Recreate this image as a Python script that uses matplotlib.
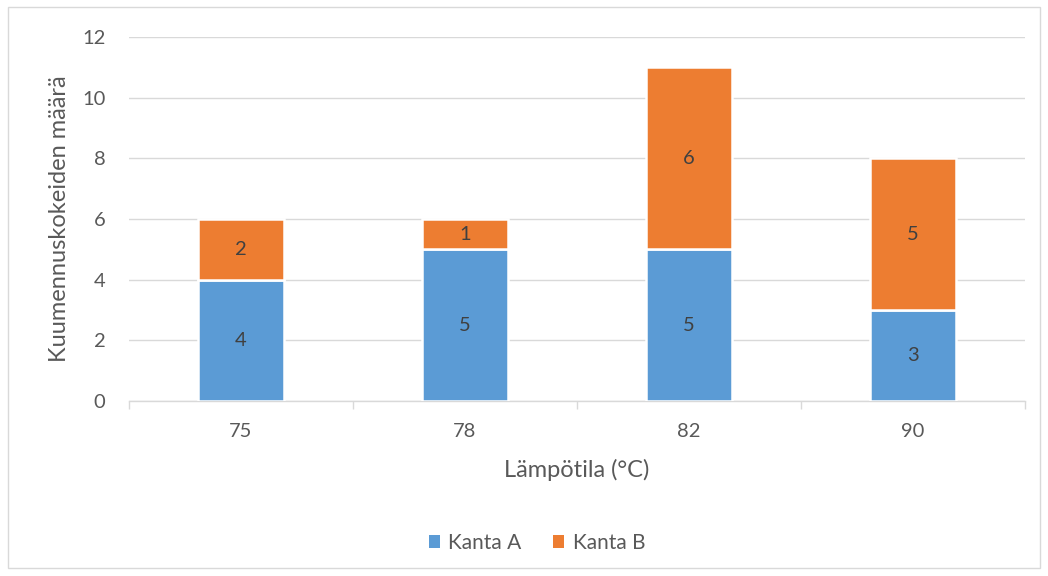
import matplotlib
matplotlib.use("Agg")
import matplotlib.pyplot as plt
import numpy as np

categories = ["75", "78", "82", "90"]
kanta_a = [4, 5, 5, 3]
kanta_b = [2, 1, 6, 5]
series_names = ["Kanta A", "Kanta B"]
colors = ["#5B9BD5", "#ED7D31"]
y_ticks = [0, 2, 4, 6, 8, 10, 12]

plt.rcParams['font.family'] = ['Lato', 'DejaVu Sans']
text_color = "#595959"

fig = plt.figure(figsize=(10.48, 5.76), dpi=100)
fig.patches.append(matplotlib.patches.Rectangle((8/1048, 8/576), 1032/1048, 561/576,
                   transform=fig.transFigure, fill=False, edgecolor="#d9d9d9", linewidth=1))
ax = fig.add_axes([129/1048, 1 - 401/576, (1025-129)/1048, (401-37)/576])

x = np.arange(len(categories))
w = 0.384
b1 = ax.bar(x, kanta_a, width=w, color=colors[0], edgecolor="white", linewidth=1.8, label=series_names[0], zorder=3)
b2 = ax.bar(x, kanta_b, width=w, bottom=kanta_a, color=colors[1], edgecolor="white", linewidth=1.8, label=series_names[1], zorder=3)

for bars, vals, bottoms in [(b1, kanta_a, [0]*4), (b2, kanta_b, kanta_a)]:
    for xi, v, bt in zip(x, vals, bottoms):
        ax.text(xi, bt + v/2, str(v), ha="center", va="center", fontsize=14.5, color="#404040", zorder=4)

ax.set_xlim(-0.5, len(categories) - 0.5)
ax.set_ylim(0, 12)
ax.set_yticks(y_ticks)
ax.set_yticklabels([str(t) for t in y_ticks], fontsize=14.5, color=text_color)
ax.set_xticks(x)
ax.set_xticklabels(categories, fontsize=14.5, color=text_color)
ax.set_xticks(np.arange(-0.5, len(categories), 1), minor=True)
ax.tick_params(axis="x", which="major", length=0, pad=16)
ax.tick_params(axis="x", which="minor", length=6, color="#d9d9d9", width=1)
ax.tick_params(axis="y", length=0, pad=17)
ax.yaxis.grid(True, color="#d9d9d9", linewidth=1, zorder=0)
ax.set_axisbelow(True)
for s in ["top", "right", "left"]:
    ax.spines[s].set_visible(False)
ax.spines["bottom"].set_color("#d9d9d9")
ax.spines["bottom"].set_linewidth(1)

ax.set_xlabel("Lämpötila (°C)", fontsize=17, color=text_color)
ax.xaxis.set_label_coords(0.5, -(470 - 401) / 364)
ax.xaxis.label.set_va("center")
ax.set_ylabel("Kuumennuskokeiden määrä", fontsize=17, color=text_color)
ax.yaxis.set_label_coords(-(129 - 60) / 896, 0.5)
ax.yaxis.label.set_va("center")

leg = fig.legend(handles=[b1, b2], labels=series_names, loc="center", bbox_to_anchor=(537/1048, 1 - 543/576),
                 ncol=2, frameon=False, fontsize=15, handlelength=0.55, handleheight=0.55,
                 columnspacing=1.5, handletextpad=0.4)
for t in leg.get_texts():
    t.set_color(text_color)
for h in leg.legend_handles:
    h.set_linewidth(0)

fig.savefig("out.png", dpi=100)
